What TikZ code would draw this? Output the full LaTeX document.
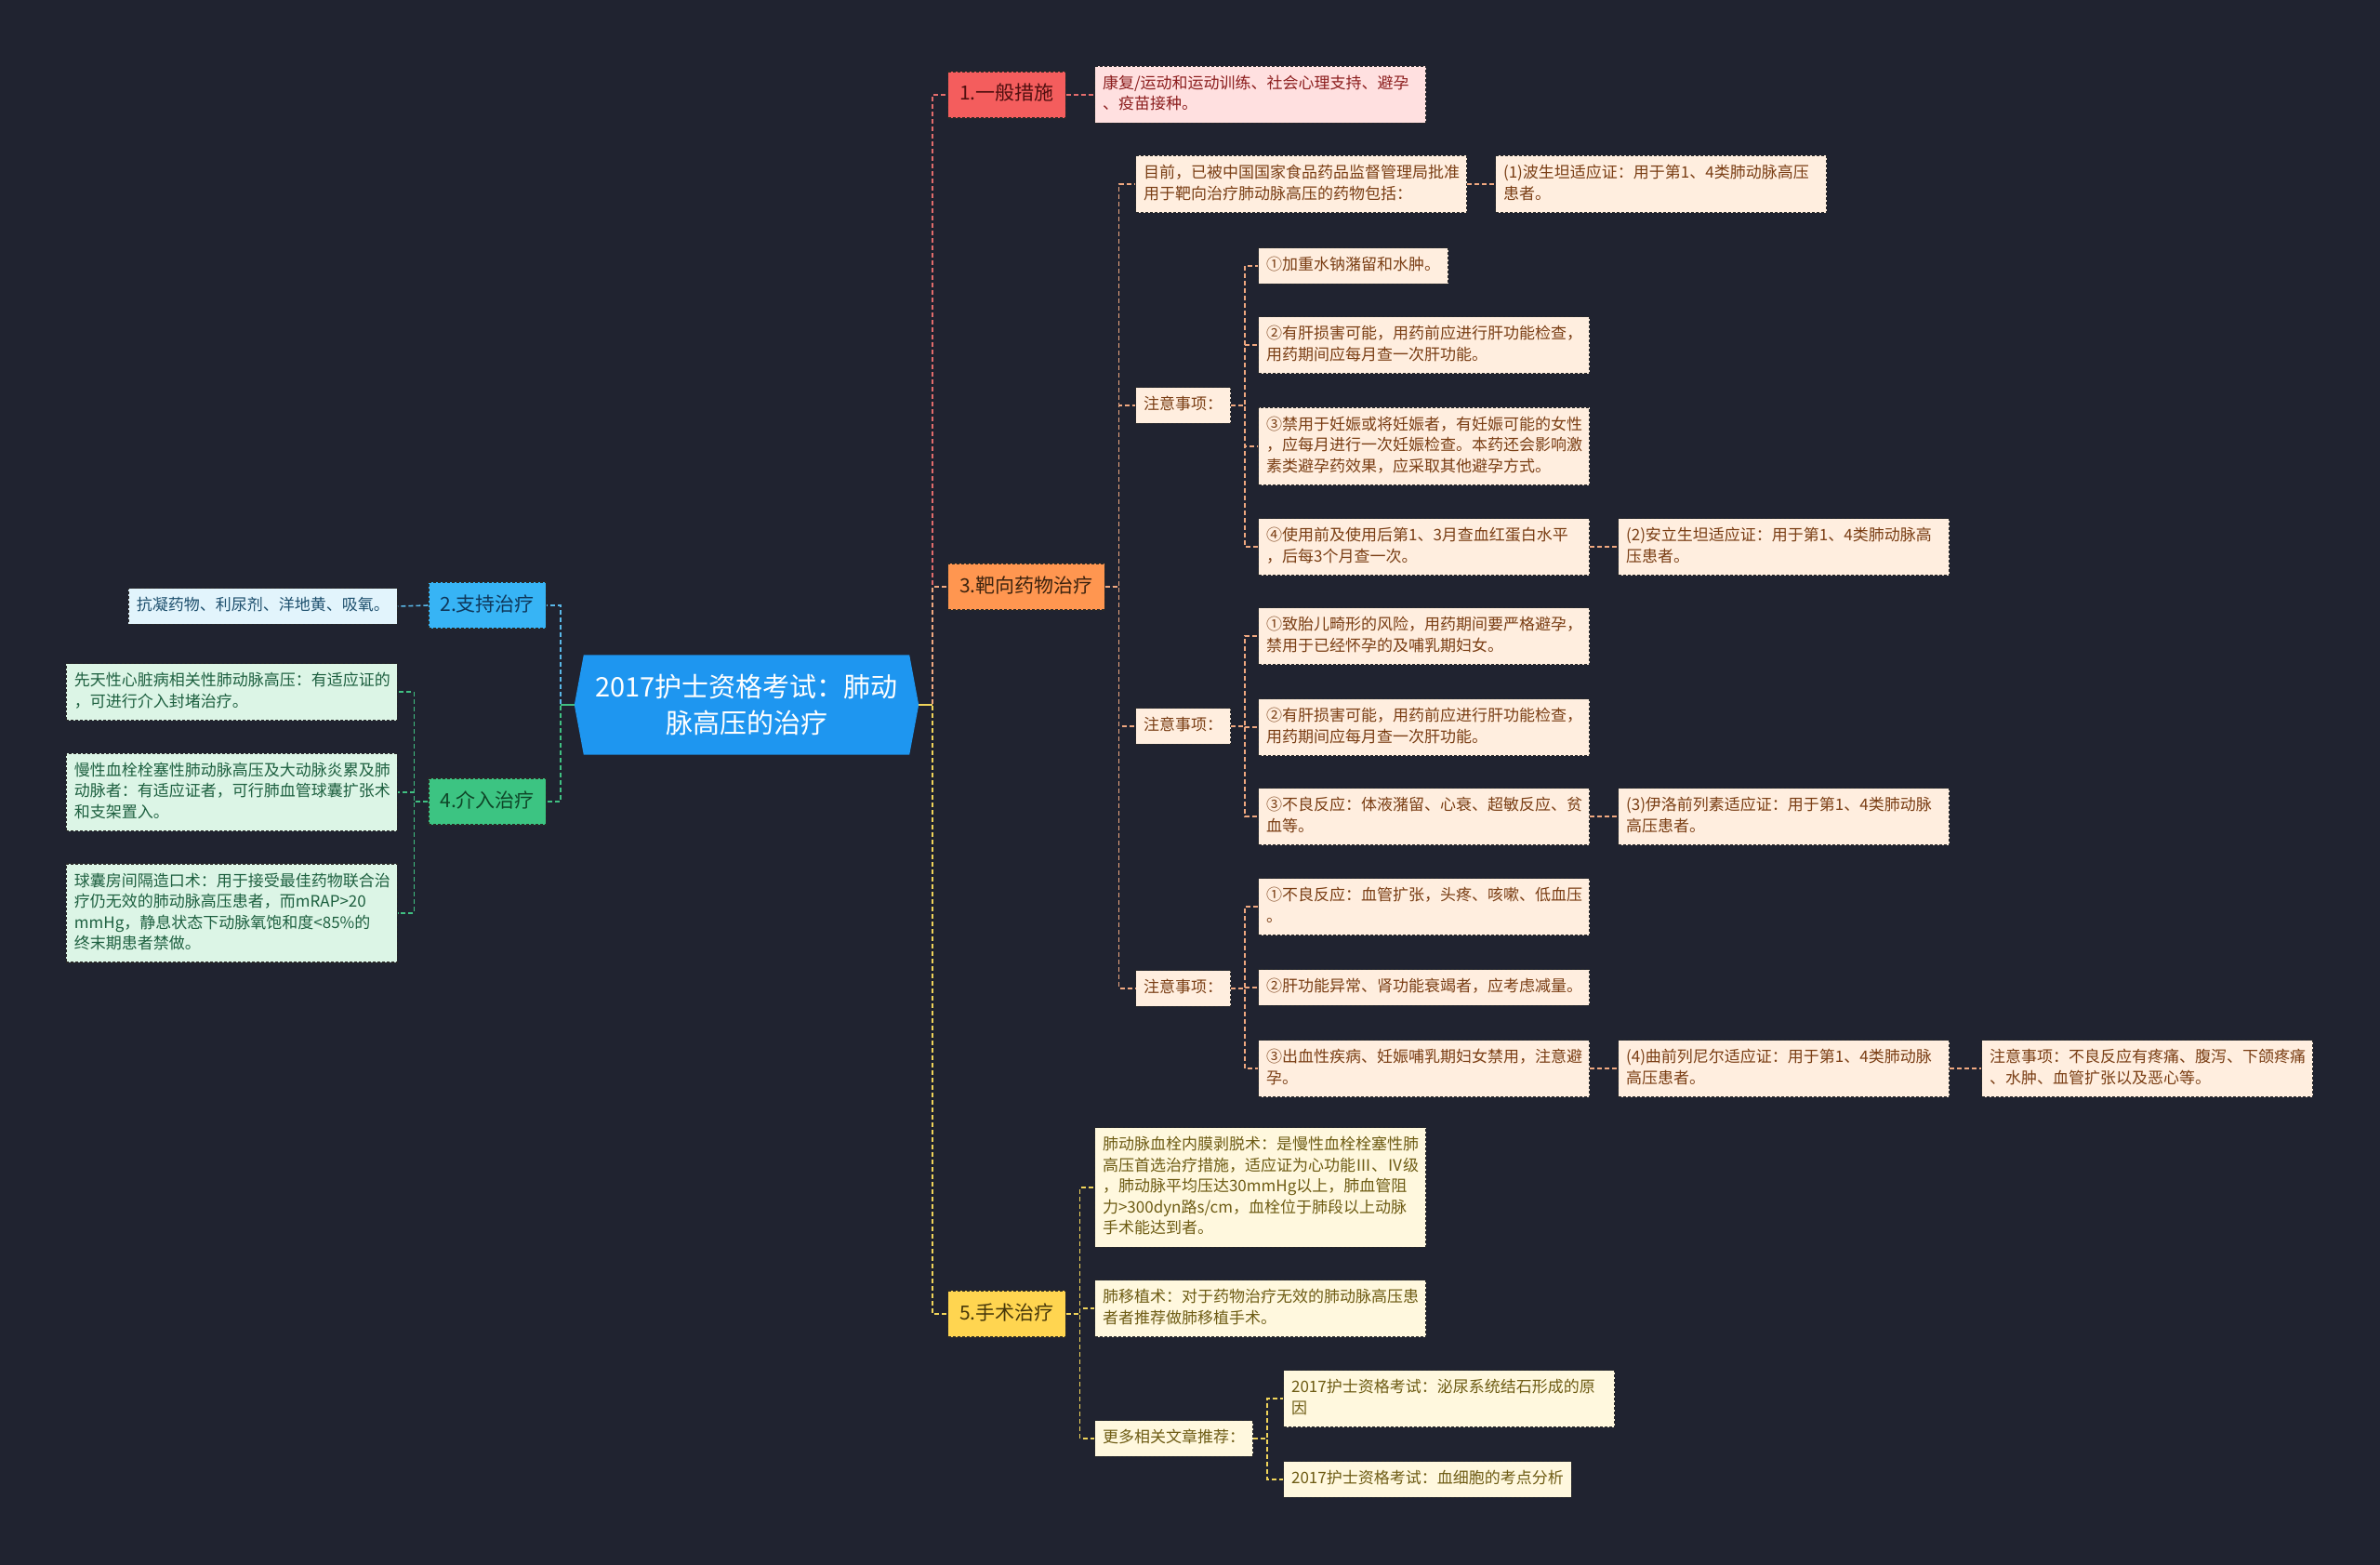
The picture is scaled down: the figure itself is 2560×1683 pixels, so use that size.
\documentclass[tikz,border=0pt]{standalone}
\usepackage{fontspec}
\setmainfont{Noto Sans CJK SC}
\usetikzlibrary{calc,backgrounds}
\definecolor{BgDark}{RGB}{32,35,48}
\definecolor{RootBlue}{RGB}{30,150,240}
\definecolor{BoxEdge}{RGB}{40,40,40}
\definecolor{RedFill}{RGB}{244,93,93}
\definecolor{RedLine}{RGB}{226,108,108}
\definecolor{RedLeaf}{RGB}{255,224,224}
\definecolor{RedText}{RGB}{140,30,30}
\definecolor{RedInk}{RGB}{80,15,15}
\definecolor{OrangeFill}{RGB}{255,150,80}
\definecolor{OrangeLine}{RGB}{240,168,128}
\definecolor{OrangeLeaf}{RGB}{255,238,223}
\definecolor{OrangeText}{RGB}{122,62,20}
\definecolor{OrangeInk}{RGB}{60,35,15}
\definecolor{YellowFill}{RGB}{255,213,80}
\definecolor{YellowLine}{RGB}{240,212,90}
\definecolor{YellowLeaf}{RGB}{255,248,222}
\definecolor{YellowText}{RGB}{110,92,20}
\definecolor{YellowInk}{RGB}{70,55,10}
\definecolor{BlueFill}{RGB}{55,180,245}
\definecolor{BlueLine}{RGB}{90,184,232}
\definecolor{BlueLeaf}{RGB}{226,244,252}
\definecolor{BlueText}{RGB}{30,80,110}
\definecolor{BlueInk}{RGB}{15,55,90}
\definecolor{GreenFill}{RGB}{60,196,130}
\definecolor{GreenLine}{RGB}{64,192,130}
\definecolor{GreenLeaf}{RGB}{220,245,230}
\definecolor{GreenText}{RGB}{30,96,64}
\definecolor{GreenInk}{RGB}{15,70,40}
\newcommand{\leafstrut}{\rule[-6.5pt]{0pt}{22.5pt}}
\newcommand{\headstrut}{\rule[-8pt]{0pt}{28pt}}
\tikzset{
  box/.style={draw=BoxEdge, line width=1.1pt, dash pattern=on 3pt off 2pt,
    inner xsep=8.5pt, inner ysep=8pt, align=left,
    font=\fontsize{17}{22.5}\selectfont,
    execute at begin node=\leafstrut, execute at end node=\leafstrut},
  wide/.style={text width=339pt},
  branch/.style={box, inner xsep=12.5pt, inner ysep=11pt, font=\fontsize{21}{28}\selectfont,
    execute at begin node=\headstrut, execute at end node=\headstrut},
  root/.style={minimum width=370pt, minimum height=107pt, inner sep=0pt,
    align=center, text=white, font=\fontsize{29}{39}\selectfont},
  link/.style={line width=1.6pt, dash pattern=on 5pt off 3pt},
  stub/.style={line width=1.8pt},
  redhead/.style={branch, fill=RedFill, text=RedInk},
  redleaf/.style={box, fill=RedLeaf, text=RedText},
  orangehead/.style={branch, fill=OrangeFill, text=OrangeInk},
  orangeleaf/.style={box, fill=OrangeLeaf, text=OrangeText},
  yellowhead/.style={branch, fill=YellowFill, text=YellowInk},
  yellowleaf/.style={box, fill=YellowLeaf, text=YellowText},
  bluehead/.style={branch, fill=BlueFill, text=BlueInk},
  blueleaf/.style={box, fill=BlueLeaf, text=BlueText},
  greenhead/.style={branch, fill=GreenFill, text=GreenInk},
  greenleaf/.style={box, fill=GreenLeaf, text=GreenText}
}
\begin{document}
\begin{tikzpicture}[x=1pt, y=-1pt]
  \useasboundingbox (0,0) rectangle (2560,1683);
  \begin{scope}[on background layer]
    \fill[BgDark] (0,0) rectangle (2560,1683);
  \end{scope}

  \node[root] (root) at (803,758) {2017护士资格考试：肺动\\脉高压的治疗};
  \begin{scope}[on background layer]
    \fill[RootBlue] ([xshift=10pt]root.north west) -- ([xshift=-10pt]root.north east) -- (root.east)
      -- ([xshift=-10pt]root.south east) -- ([xshift=10pt]root.south west) -- (root.west) -- cycle;
  \end{scope}

  \node[redhead, anchor=west] (b1) at (1019,102) {1.一般措施};
  \node[orangehead, anchor=west] (b3) at (1019,631) {3.靶向药物治疗};
  \node[yellowhead, anchor=west] (b5) at (1019,1413) {5.手术治疗};
  \node[bluehead, anchor=east] (b2) at (588,651) {2.支持治疗};
  \node[greenhead, anchor=east] (b4) at (588,862) {4.介入治疗};

  \node[redleaf, wide, anchor=west] (k1) at (1177,102) {康复/运动和运动训练、社会心理支持、避孕\\、疫苗接种。};

  \node[orangeleaf, wide, anchor=west] (t0) at (1221,198) {目前，已被中国国家食品药品监督管理局批准\\用于靶向治疗肺动脉高压的药物包括：};
  \node[orangeleaf, wide, anchor=west] (t0a) at (1608,198) {(1)波生坦适应证：用于第1、4类肺动脉高压\\患者。};
  \node[orangeleaf, anchor=west] (n1) at (1221,436) {注意事项：};
  \node[orangeleaf, anchor=west] (n1a) at (1353,286) {①加重水钠潴留和水肿。};
  \node[orangeleaf, wide, anchor=west] (n1b) at (1353,371) {②有肝损害可能，用药前应进行肝功能检查，\\用药期间应每月查一次肝功能。};
  \node[orangeleaf, wide, anchor=west] (n1c) at (1353,480) {③禁用于妊娠或将妊娠者，有妊娠可能的女性\\，应每月进行一次妊娠检查。本药还会影响激\\素类避孕药效果，应采取其他避孕方式。};
  \node[orangeleaf, wide, anchor=west] (n1d) at (1353,588) {④使用前及使用后第1、3月查血红蛋白水平\\，后每3个月查一次。};
  \node[orangeleaf, wide, anchor=west] (n1e) at (1740,588) {(2)安立生坦适应证：用于第1、4类肺动脉高\\压患者。};
  \node[orangeleaf, anchor=west] (n2) at (1221,781) {注意事项：};
  \node[orangeleaf, wide, anchor=west] (n2a) at (1353,684) {①致胎儿畸形的风险，用药期间要严格避孕，\\禁用于已经怀孕的及哺乳期妇女。};
  \node[orangeleaf, wide, anchor=west] (n2b) at (1353,782) {②有肝损害可能，用药前应进行肝功能检查，\\用药期间应每月查一次肝功能。};
  \node[orangeleaf, wide, anchor=west] (n2c) at (1353,878) {③不良反应：体液潴留、心衰、超敏反应、贫\\血等。};
  \node[orangeleaf, wide, anchor=west] (n2d) at (1740,878) {(3)伊洛前列素适应证：用于第1、4类肺动脉\\高压患者。};
  \node[orangeleaf, anchor=west] (n3) at (1221,1063) {注意事项：};
  \node[orangeleaf, wide, anchor=west] (n3a) at (1353,975) {①不良反应：血管扩张，头疼、咳嗽、低血压\\。};
  \node[orangeleaf, wide, anchor=west] (n3b) at (1353,1062) {②肝功能异常、肾功能衰竭者，应考虑减量。};
  \node[orangeleaf, wide, anchor=west] (n3c) at (1353,1149) {③出血性疾病、妊娠哺乳期妇女禁用，注意避\\孕。};
  \node[orangeleaf, wide, anchor=west] (n3d) at (1740,1149) {(4)曲前列尼尔适应证：用于第1、4类肺动脉\\高压患者。};
  \node[orangeleaf, wide, anchor=west] (n3e) at (2131,1149) {注意事项：不良反应有疼痛、腹泻、下颌疼痛\\、水肿、血管扩张以及恶心等。};

  \node[yellowleaf, wide, anchor=west] (s1) at (1177,1277) {肺动脉血栓内膜剥脱术：是慢性血栓栓塞性肺\\高压首选治疗措施，适应证为心功能Ⅲ、Ⅳ级\\，肺动脉平均压达30mmHg以上，肺血管阻\\力>300dyn路s/cm，血栓位于肺段以上动脉\\手术能达到者。};
  \node[yellowleaf, wide, anchor=west] (s2) at (1177,1407) {肺移植术：对于药物治疗无效的肺动脉高压患\\者者推荐做肺移植手术。};
  \node[yellowleaf, anchor=west] (s3) at (1177,1547) {更多相关文章推荐：};
  \node[yellowleaf, wide, anchor=west] (s3a) at (1380,1504) {2017护士资格考试：泌尿系统结石形成的原\\因};
  \node[yellowleaf, anchor=west] (s3b) at (1380,1591) {2017护士资格考试：血细胞的考点分析};

  \node[blueleaf, anchor=east] (l2a) at (428,652) {抗凝药物、利尿剂、洋地黄、吸氧。};
  \node[greenleaf, wide, anchor=east] (l4a) at (428,744) {先天性心脏病相关性肺动脉高压：有适应证的\\，可进行介入封堵治疗。};
  \node[greenleaf, wide, anchor=east] (l4b) at (428,852) {慢性血栓栓塞性肺动脉高压及大动脉炎累及肺\\动脉者：有适应证者，可行肺血管球囊扩张术\\和支架置入。};
  \node[greenleaf, wide, anchor=east] (l4c) at (428,982) {球囊房间隔造口术：用于接受最佳药物联合治\\疗仍无效的肺动脉高压患者，而mRAP>20\\mmHg，静息状态下动脉氧饱和度<85\%的\\终末期患者禁做。};

  \draw[link, RedLine] (root.east) -- ++(15,0) |- (b1.west);
  \draw[link, OrangeLine] (root.east) -- ++(15,0) |- (b3.west);
  \draw[link, YellowLine] (root.east) -- ++(15,0) |- (b5.west);
  \draw[link, BlueLine] (root.west) -- ++(-15,0) |- (b2.east);
  \draw[link, GreenLine] (root.west) -- ++(-15,0) |- (b4.east);
  \draw[stub, YellowLine] (root.east) -- ++(15,0);
  \draw[stub, GreenLine] (root.west) -- ++(-15,0);

  \draw[link, RedLine] (b1.east) -- (k1.west);
  \foreach \c in {t0,n1,n2,n3}
    \draw[link, OrangeLine] (b3.east) -- ++(15,0) |- (\c.west);
  \draw[link, OrangeLine] (t0.east) -- (t0a.west);
  \foreach \c in {n1a,n1b,n1c,n1d}
    \draw[link, OrangeLine] (n1.east) -- ++(15,0) |- (\c.west);
  \draw[link, OrangeLine] (n1d.east) -- (n1e.west);
  \foreach \c in {n2a,n2b,n2c}
    \draw[link, OrangeLine] (n2.east) -- ++(15,0) |- (\c.west);
  \draw[link, OrangeLine] (n2c.east) -- (n2d.west);
  \foreach \c in {n3a,n3b,n3c}
    \draw[link, OrangeLine] (n3.east) -- ++(15,0) |- (\c.west);
  \draw[link, OrangeLine] (n3c.east) -- (n3d.west);
  \draw[link, OrangeLine] (n3d.east) -- (n3e.west);
  \foreach \c in {s1,s2,s3}
    \draw[link, YellowLine] (b5.east) -- ++(15,0) |- (\c.west);
  \foreach \c in {s3a,s3b}
    \draw[link, YellowLine] (s3.east) -- ++(15,0) |- (\c.west);
  \draw[link, BlueLine] (b2.west) -- (l2a.east);
  \foreach \c in {l4a,l4b,l4c}
    \draw[link, GreenLine] (b4.west) -- ++(-15,0) |- (\c.east);
\end{tikzpicture}
\end{document}
